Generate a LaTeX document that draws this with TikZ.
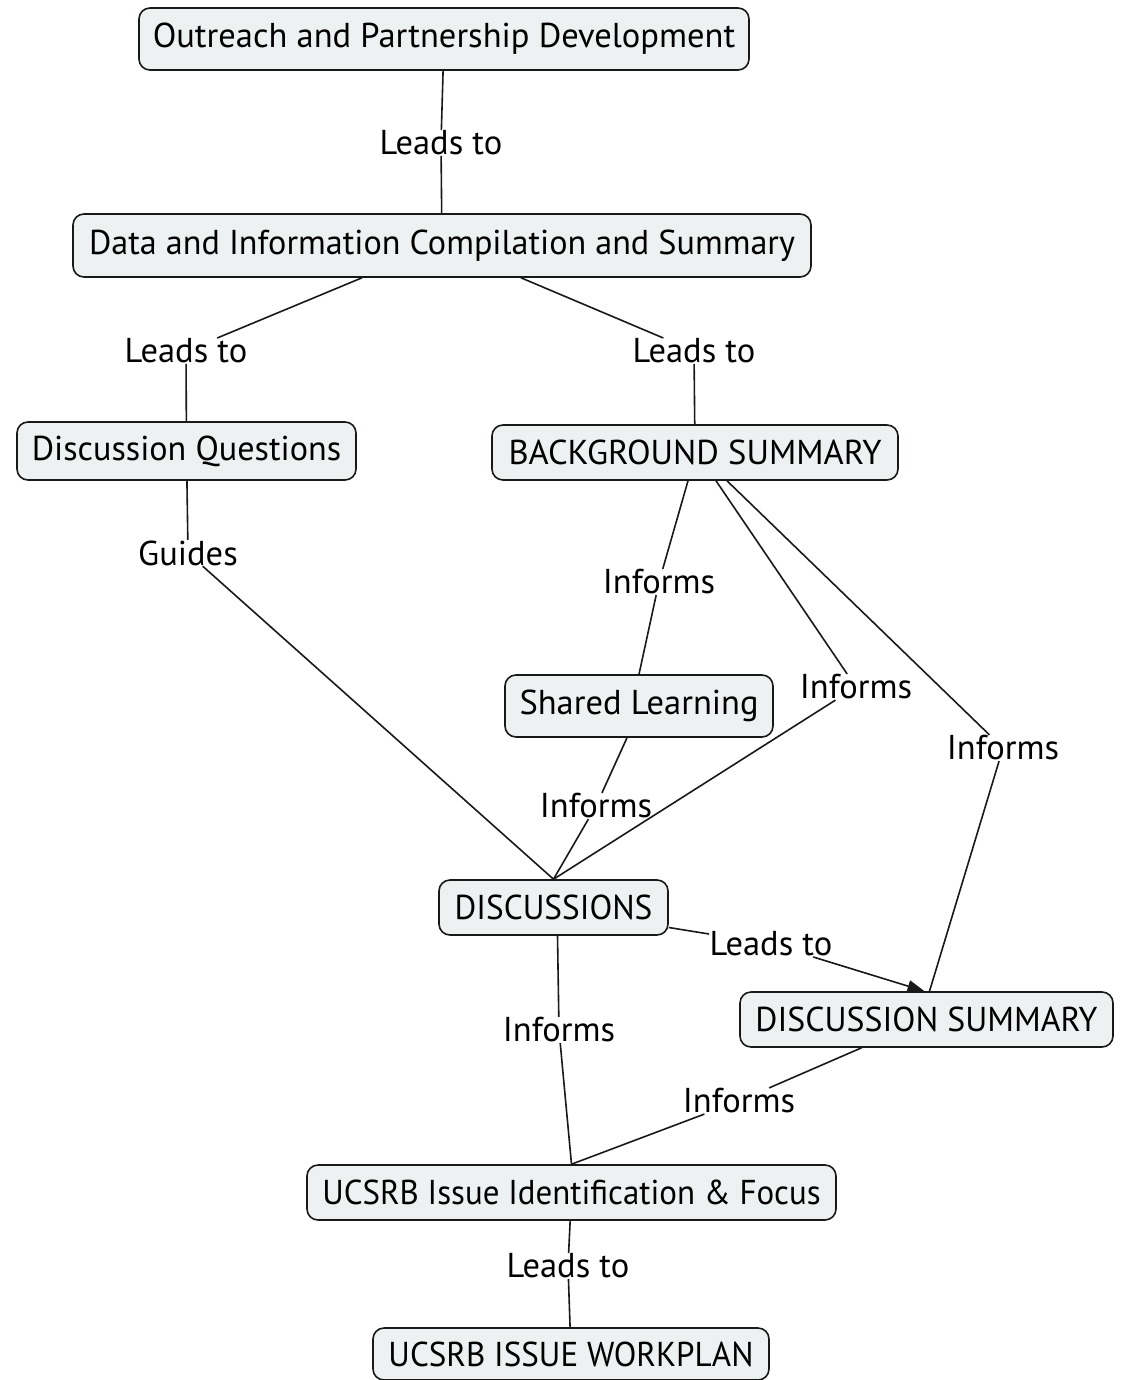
\documentclass[tikz,border=0pt]{standalone}
\usepackage{fontspec}
\setmainfont{PT Sans}
\usetikzlibrary{calc,arrows.meta}
\definecolor{boxfill}{RGB}{238,241,241}
\definecolor{edge}{RGB}{25,25,25}
\newcommand{\hsq}[2]{\scalebox{#1}[1]{#2}}
\begin{document}
\begin{tikzpicture}[x=1pt,y=-1pt,
  box/.style={draw=edge, line width=1.6pt, rounded corners=11pt, fill=boxfill,
    inner sep=0pt, font=\fontsize{34.5}{40}\selectfont},
  lbl/.style={inner sep=0.5pt, font=\fontsize{34.5}{40}\selectfont},
  conn/.style={draw=edge, line width=1.6pt}]
\useasboundingbox (0,0) rectangle (1125,1380);
% concept boxes
\node[box, minimum width=610, minimum height=62] (out) at (444,39) {Outreach and Partnership Development};
\node[box, minimum width=738, minimum height=63] (data) at (442,245.5) {\hsq{0.99}{Data and Information Compilation and Summary}};
\node[box, minimum width=339, minimum height=58] (dq) at (186.5,451) {\hsq{0.99}{Discussion Questions}};
\node[box, minimum width=406, minimum height=55] (bs) at (695,452.5) {BACKGROUND SUMMARY};
\node[box, minimum width=268, minimum height=62] (sl) at (639,706) {Shared Learning};
\node[box, minimum width=229, minimum height=55] (disc) at (553.5,907.5) {\hsq{0.965}{DISCUSSIONS}};
\node[box, minimum width=373, minimum height=55] (ds) at (926.5,1019.5) {\hsq{0.98}{DISCUSSION SUMMARY}};
\node[box, minimum width=529, minimum height=55] (ucs) at (571.5,1192.5) {\hsq{0.955}{UCSRB Issue Identification \& Focus}};
\node[box, minimum width=396, minimum height=52] (wp) at (571,1354) {\hsq{0.958}{UCSRB ISSUE WORKPLAN}};
% linking phrases
\node[lbl] (l1) at (441,143) {Leads to};
\node[lbl] (l2) at (186,351) {Leads to};
\node[lbl] (l3) at (694,351) {Leads to};
\node[lbl] (g) at (188,553) {Guides};
\node[lbl] (i1) at (659,582) {Informs};
\node[lbl] (i2) at (856,687) {Informs};
\node[lbl] (i3) at (1003,748) {Informs};
\node[lbl] (i4) at (596,806) {Informs};
\node[lbl] (l5) at (771,944) {Leads to};
\node[lbl] (i5) at (559,1030) {Informs};
\node[lbl] (i6) at (739,1101) {Informs};
\node[lbl] (l6) at (568,1266) {Leads to};
% connectors
\path[conn] (out) -- (l1);
\path[conn] (l1) -- (data);
\path[conn] ($(data.south)+(-80,0)$) -- (l2);
\path[conn] (l2) -- (dq);
\path[conn] ($(data.south)+(79,0)$) -- (l3);
\path[conn] (l3) -- (bs);
\path[conn] (dq) -- (g);
\path[conn] (g) -- (disc.north);
\path[conn] ($(bs.south)+(-7,0)$) -- (i1);
\path[conn] (i1) -- (sl.north);
\path[conn] ($(bs.south)+(21,0)$) -- (i2);
\path[conn] (i2) -- (disc.north);
\path[conn] ($(bs.south)+(32,0)$) -- (i3);
\path[conn] (i3) -- ($(ds.north)+(3,0)$);
\path[conn] ($(sl.south)+(-12,0)$) -- (i4);
\path[conn] (i4) -- (disc.north);
\path[conn] ($(disc.east)+(0,20)$) -- (l5);
\path[conn, -{Triangle[length=17pt,width=12pt]}] (l5) -- ($(ds.north)+(-2,0)$);
\path[conn] ($(disc.south)+(4,0)$) -- (i5);
\path[conn] (i5) -- (ucs.north);
\path[conn] ($(ds.south)+(-65,0)$) -- (i6);
\path[conn] (i6) -- (ucs.north);
\path[conn] (ucs) -- (l6);
\path[conn] (l6) -- (wp);
\end{tikzpicture}
\end{document}
